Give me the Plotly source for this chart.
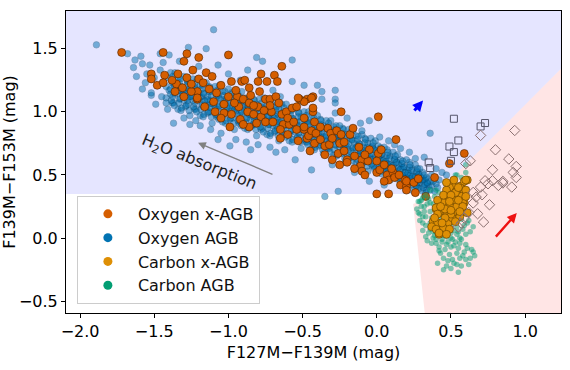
import plotly.graph_objects as go

# ---------------- data ----------------
SERIES_NAMES = ["Oxygen x-AGB", "Oxygen AGB", "Carbon x-AGB", "Carbon AGB"]
SERIES_COLORS = ["#d55e00", "#0173b2", "#de8f05", "#029e73"]

X_TICKS = [-2.0, -1.5, -1.0, -0.5, 0.0, 0.5, 1.0]
Y_TICKS = [-0.5, 0.0, 0.5, 1.0, 1.5]

# Oxygen AGB (blue cloud)
OXY_AGB = [
    (-1.41,1.02),(-1.38,1.07),(-1.42,1.11),(-1.39,1.14),(-1.40,1.17),(-1.42,1.20),(-1.38,1.23),(-1.41,1.27),(-1.39,1.31),
    (-1.34,1.02),(-1.37,1.07),(-1.33,1.10),(-1.36,1.14),(-1.33,1.17),(-1.35,1.20),(-1.37,1.23),(-1.34,1.26),(-1.36,1.31),
    (-1.32,1.01),(-1.29,1.04),(-1.30,1.09),(-1.28,1.11),(-1.31,1.14),(-1.29,1.17),(-1.32,1.20),(-1.28,1.25),(-1.30,1.28),
    (-1.26,0.97),(-1.23,1.02),(-1.27,1.06),(-1.24,1.09),(-1.25,1.12),(-1.27,1.15),(-1.23,1.18),(-1.26,1.22),(-1.24,1.26),
    (-1.19,0.97),(-1.22,1.02),(-1.18,1.05),(-1.21,1.09),(-1.18,1.12),(-1.20,1.15),(-1.22,1.18),(-1.19,1.21),(-1.21,1.26),
    (-1.17,0.96),(-1.14,0.99),(-1.15,1.04),(-1.13,1.06),(-1.16,1.09),(-1.14,1.12),(-1.17,1.15),(-1.13,1.20),(-1.15,1.23),
    (-1.11,0.91),(-1.08,0.96),(-1.12,1.00),(-1.09,1.03),(-1.10,1.06),(-1.12,1.09),(-1.08,1.12),(-1.11,1.16),(-1.09,1.20),
    (-1.04,0.92),(-1.07,0.97),(-1.03,1.00),(-1.06,1.04),(-1.03,1.07),(-1.05,1.10),(-1.07,1.13),(-1.04,1.16),(-1.06,1.21),
    (-1.02,0.91),(-0.99,0.94),(-1.00,0.99),(-0.98,1.01),(-1.01,1.04),(-0.99,1.07),(-1.02,1.10),(-0.98,1.15),(-1.00,1.18),
    (-0.96,0.86),(-0.93,0.91),(-0.97,0.95),(-0.94,0.98),(-0.95,1.01),(-0.97,1.04),(-0.93,1.07),(-0.96,1.11),(-0.94,1.15),
    (-0.89,0.87),(-0.92,0.92),(-0.88,0.95),(-0.91,0.99),(-0.88,1.02),(-0.90,1.05),(-0.92,1.08),(-0.89,1.11),(-0.91,1.16),
    (-0.87,0.86),(-0.84,0.89),(-0.85,0.94),(-0.83,0.96),(-0.86,0.99),(-0.84,1.02),(-0.87,1.05),(-0.83,1.10),(-0.85,1.13),
    (-0.81,0.81),(-0.78,0.86),(-0.82,0.90),(-0.79,0.93),(-0.80,0.96),(-0.82,0.99),(-0.78,1.02),(-0.81,1.06),(-0.79,1.10),
    (-0.74,0.82),(-0.77,0.87),(-0.73,0.90),(-0.76,0.94),(-0.73,0.97),(-0.75,1.00),(-0.77,1.03),(-0.74,1.06),(-0.76,1.11),
    (-0.72,0.81),(-0.69,0.84),(-0.70,0.89),(-0.68,0.91),(-0.71,0.94),(-0.69,0.97),(-0.72,1.00),(-0.68,1.05),(-0.70,1.08),
    (-0.66,0.77),(-0.63,0.82),(-0.67,0.86),(-0.64,0.89),(-0.65,0.92),(-0.67,0.95),(-0.63,0.98),(-0.66,1.02),(-0.64,1.06),
    (-0.59,0.77),(-0.62,0.82),(-0.58,0.85),(-0.61,0.89),(-0.58,0.92),(-0.60,0.95),(-0.62,0.98),(-0.59,1.01),(-0.61,1.06),
    (-0.57,0.76),(-0.54,0.79),(-0.55,0.84),(-0.53,0.86),(-0.56,0.89),(-0.54,0.92),(-0.57,0.95),(-0.53,1.00),(-0.55,1.03),
    (-0.51,0.71),(-0.48,0.76),(-0.52,0.80),(-0.49,0.83),(-0.50,0.86),(-0.52,0.89),(-0.48,0.92),(-0.51,0.96),(-0.49,1.00),
    (-0.44,0.71),(-0.47,0.76),(-0.43,0.79),(-0.46,0.83),(-0.43,0.86),(-0.45,0.89),(-0.47,0.92),(-0.44,0.95),(-0.46,1.00),
    (-0.42,0.70),(-0.39,0.73),(-0.40,0.78),(-0.38,0.80),(-0.41,0.83),(-0.39,0.86),(-0.42,0.89),(-0.38,0.94),(-0.40,0.97),
    (-0.36,0.67),(-0.33,0.71),(-0.37,0.75),(-0.34,0.77),(-0.35,0.80),(-0.37,0.83),(-0.33,0.86),(-0.36,0.89),(-0.34,0.93),
    (-0.29,0.66),(-0.32,0.71),(-0.28,0.74),(-0.31,0.77),(-0.28,0.80),(-0.30,0.83),(-0.32,0.85),(-0.29,0.88),(-0.31,0.93),
    (-0.27,0.65),(-0.24,0.68),(-0.25,0.72),(-0.23,0.74),(-0.26,0.77),(-0.24,0.79),(-0.27,0.82),(-0.23,0.87),(-0.25,0.89),
    (-0.21,0.60),(-0.18,0.64),(-0.22,0.68),(-0.19,0.70),(-0.20,0.73),(-0.22,0.76),(-0.18,0.79),(-0.21,0.82),(-0.19,0.86),
    (-0.14,0.59),(-0.17,0.64),(-0.13,0.66),(-0.16,0.70),(-0.13,0.73),(-0.15,0.75),(-0.17,0.78),(-0.14,0.81),(-0.16,0.85),
    (-0.12,0.57),(-0.09,0.60),(-0.10,0.65),(-0.08,0.66),(-0.11,0.69),(-0.09,0.72),(-0.12,0.75),(-0.08,0.79),(-0.10,0.82),
    (-0.06,0.53),(-0.03,0.57),(-0.07,0.61),(-0.04,0.63),(-0.05,0.66),(-0.07,0.69),(-0.03,0.72),(-0.06,0.75),(-0.04,0.79),
    (0.01,0.53),(-0.02,0.57),(0.02,0.60),(-0.01,0.63),(0.02,0.65),(0.00,0.68),(-0.02,0.70),(0.01,0.73),(-0.01,0.77),
    (0.03,0.51),(0.06,0.53),(0.05,0.57),(0.07,0.59),(0.04,0.61),(0.06,0.63),(0.03,0.66),(0.07,0.70),(0.05,0.72),
    (0.09,0.46),(0.12,0.50),(0.08,0.53),(0.11,0.55),(0.10,0.57),(0.08,0.59),(0.12,0.62),(0.09,0.65),(0.11,0.68),
    (0.16,0.44),(0.13,0.48),(0.17,0.50),(0.14,0.53),(0.17,0.56),(0.15,0.58),(0.13,0.60),(0.16,0.62),(0.14,0.66),
    (0.18,0.43),(0.21,0.45),(0.20,0.48),(0.22,0.50),(0.19,0.52),(0.21,0.54),(0.18,0.56),(0.22,0.60),(0.20,0.62),
    (0.24,0.38),(0.27,0.41),(0.23,0.44),(0.26,0.46),(0.25,0.48),(0.23,0.50),(0.27,0.52),(0.24,0.55),(0.26,0.58),
    (0.31,0.37),(0.28,0.40),(0.32,0.42),(0.29,0.44),(0.32,0.46),(0.30,0.48),(0.28,0.50),(0.31,0.52),(0.29,0.55),
    (0.33,0.36),(0.36,0.38),(0.35,0.41),(0.37,0.42),(0.34,0.43),(0.36,0.45),(0.33,0.47),(0.37,0.50),
    (0.39,0.37),(0.41,0.40),(0.40,0.43),(0.42,0.46),(0.38,0.45),
    # dense core, second pass
    (-1.365,1.05),(-1.385,1.09),(-1.375,1.12),(-1.36,1.15),(-1.39,1.18),(-1.365,1.21),(-1.38,1.25),(-1.375,1.28),
    (-1.315,1.03),(-1.335,1.07),(-1.325,1.105),(-1.31,1.135),(-1.34,1.165),(-1.315,1.195),(-1.33,1.23),(-1.325,1.26),
    (-1.265,1.01),(-1.285,1.05),(-1.275,1.09),(-1.26,1.12),(-1.29,1.15),(-1.265,1.18),(-1.28,1.21),(-1.275,1.24),
    (-1.215,1.00),(-1.235,1.04),(-1.225,1.07),(-1.21,1.10),(-1.24,1.13),(-1.215,1.16),(-1.23,1.20),(-1.225,1.23),
    (-1.165,0.98),(-1.185,1.02),(-1.175,1.055),(-1.16,1.085),(-1.19,1.115),(-1.165,1.145),(-1.18,1.18),(-1.175,1.21),
    (-1.115,0.96),(-1.135,1.00),(-1.125,1.035),(-1.11,1.065),(-1.14,1.095),(-1.115,1.125),(-1.13,1.16),(-1.125,1.19),
    (-1.065,0.94),(-1.085,0.98),(-1.075,1.02),(-1.06,1.05),(-1.09,1.08),(-1.065,1.11),(-1.08,1.14),(-1.075,1.17),
    (-1.015,0.93),(-1.035,0.97),(-1.025,1.00),(-1.01,1.03),(-1.04,1.06),(-1.015,1.09),(-1.03,1.13),(-1.025,1.16),
    (-0.965,0.91),(-0.985,0.95),(-0.975,0.985),(-0.96,1.015),(-0.99,1.045),(-0.965,1.075),(-0.98,1.11),(-0.975,1.14),
    (-0.915,0.89),(-0.935,0.93),(-0.925,0.97),(-0.91,1.00),(-0.94,1.03),(-0.915,1.06),(-0.93,1.09),(-0.925,1.12),
    (-0.865,0.875),(-0.885,0.915),(-0.875,0.95),(-0.86,0.98),(-0.89,1.01),(-0.865,1.04),(-0.88,1.075),(-0.875,1.105),
    (-0.815,0.86),(-0.835,0.90),(-0.825,0.93),(-0.81,0.96),(-0.84,0.99),(-0.815,1.02),(-0.83,1.06),(-0.825,1.09),
    (-0.765,0.84),(-0.785,0.88),(-0.775,0.92),(-0.76,0.95),(-0.79,0.98),(-0.765,1.01),(-0.78,1.04),(-0.775,1.07),
    (-0.715,0.83),(-0.735,0.87),(-0.725,0.90),(-0.71,0.93),(-0.74,0.96),(-0.715,0.99),(-0.73,1.03),(-0.725,1.06),
    (-0.665,0.81),(-0.685,0.85),(-0.675,0.89),(-0.66,0.92),(-0.69,0.95),(-0.665,0.98),(-0.68,1.01),(-0.675,1.04),
    (-0.615,0.80),(-0.635,0.84),(-0.625,0.87),(-0.61,0.90),(-0.64,0.93),(-0.615,0.96),(-0.63,1.00),(-0.625,1.03),
    (-0.565,0.78),(-0.585,0.82),(-0.575,0.855),(-0.56,0.885),(-0.59,0.915),(-0.565,0.945),(-0.58,0.98),(-0.575,1.01),
    (-0.515,0.76),(-0.535,0.80),(-0.525,0.835),(-0.51,0.865),(-0.54,0.895),(-0.515,0.925),(-0.53,0.96),(-0.525,0.99),
    (-0.465,0.74),(-0.485,0.78),(-0.475,0.815),(-0.46,0.845),(-0.49,0.875),(-0.465,0.905),(-0.48,0.94),(-0.475,0.97),
    (-0.415,0.72),(-0.435,0.76),(-0.425,0.795),(-0.41,0.825),(-0.44,0.855),(-0.415,0.885),(-0.43,0.92),(-0.425,0.95),
    (-0.365,0.70),(-0.385,0.74),(-0.375,0.775),(-0.36,0.805),(-0.39,0.835),(-0.365,0.865),(-0.38,0.90),(-0.375,0.93),
    (-0.315,0.68),(-0.335,0.72),(-0.325,0.755),(-0.31,0.785),(-0.34,0.815),(-0.315,0.845),(-0.33,0.88),(-0.325,0.91),
    (-0.265,0.66),(-0.285,0.70),(-0.275,0.735),(-0.26,0.765),(-0.29,0.795),(-0.265,0.825),(-0.28,0.86),(-0.275,0.89),
    (-0.215,0.63),(-0.235,0.67),(-0.225,0.71),(-0.21,0.74),(-0.24,0.77),(-0.215,0.80),(-0.23,0.83),(-0.225,0.86),
    (-0.165,0.61),(-0.185,0.65),(-0.175,0.685),(-0.16,0.715),(-0.19,0.745),(-0.165,0.775),(-0.18,0.81),(-0.175,0.84),
    (-0.115,0.59),(-0.135,0.625),(-0.125,0.66),(-0.11,0.69),(-0.14,0.715),(-0.115,0.745),(-0.13,0.78),(-0.125,0.805),
    (-0.065,0.57),(-0.085,0.605),(-0.075,0.64),(-0.06,0.665),(-0.09,0.695),(-0.065,0.72),(-0.08,0.755),(-0.075,0.78),
    (-0.015,0.55),(-0.035,0.585),(-0.025,0.62),(-0.01,0.645),(-0.04,0.67),(-0.015,0.70),(-0.03,0.73),(-0.025,0.755),
    (0.035,0.53),(0.015,0.56),(0.025,0.59),(0.04,0.615),(0.01,0.64),(0.035,0.665),(0.02,0.69),(0.025,0.715),
    (0.085,0.50),(0.065,0.53),(0.075,0.56),(0.09,0.58),(0.06,0.605),(0.085,0.63),(0.07,0.655),(0.075,0.68),
    (0.135,0.47),(0.115,0.50),(0.125,0.53),(0.14,0.55),(0.11,0.575),(0.135,0.60),(0.12,0.625),(0.125,0.65),
    (0.185,0.45),(0.165,0.475),(0.175,0.50),(0.19,0.52),(0.16,0.545),(0.185,0.565),(0.17,0.59),(0.175,0.61),
    (0.235,0.42),(0.215,0.445),(0.225,0.47),(0.24,0.49),(0.21,0.515),(0.235,0.535),(0.22,0.56),(0.225,0.58),
    (0.285,0.39),(0.265,0.415),(0.275,0.44),(0.29,0.46),(0.26,0.485),(0.285,0.505),(0.27,0.53),(0.275,0.55),
    (0.335,0.38),(0.315,0.40),(0.325,0.425),(0.34,0.44),(0.31,0.46),(0.335,0.48),(0.32,0.50),
    # sparse halo
    (-1.89,1.53),(-1.68,1.46),(-1.59,1.44),(-1.63,1.41),(-1.58,1.38),(-1.53,1.37),(-1.64,1.35),(-1.62,1.28),
    (-1.56,1.23),(-1.52,1.13),(-1.49,1.06),(-1.46,1.46),(-1.40,1.45),(-1.27,1.51),(-1.10,1.65),(-1.15,1.50),
    (-1.07,1.37),(-1.48,1.21),(-1.52,1.15),(-1.42,1.07),(-1.37,0.91),(-1.26,0.90),(-1.19,0.89),(-1.07,0.78),
    (-0.99,0.73),(-0.81,1.43),(-0.77,1.40),(-0.87,1.33),(-1.55,1.30),(-1.50,1.27),(-1.46,1.33),(-1.45,1.12),
    (-1.58,1.18),(-1.44,1.39),(-1.33,1.40),(-1.20,1.36),(-1.30,0.95),(-1.22,0.93),(-1.12,0.86),(-1.05,0.83),
    (-0.95,0.78),(-0.88,0.76),(-0.80,0.74),(-0.72,0.72),(-0.62,0.70),(-0.57,1.41),(-0.57,1.24),(-0.49,1.21),
    (-0.40,1.21),(-0.28,1.17),(-0.28,1.10),(-0.37,1.10),(-0.37,1.16),(-0.28,1.07),(-0.28,0.99),(-0.11,0.91),
    (-0.05,0.93),(-0.10,0.85),(0.02,0.80),(0.08,0.77),(0.16,0.71),(0.26,0.63),(0.36,0.83),(-0.44,0.54),
    (-0.26,0.37),(-0.35,0.33),(-0.55,0.62),(-0.68,0.68),(-0.92,1.25),(-1.00,1.30),(-0.70,1.17),(-0.65,1.12),
    (-0.50,1.08),(-0.20,0.95),(-0.15,0.52),(-0.05,0.45),(0.05,0.42),(-0.30,0.58),(-0.85,0.70),(0.20,0.38),
    (0.44,0.52),(0.47,0.50),(0.40,0.55),(0.32,0.64),(0.22,0.68),(0.12,0.74),
]

# Oxygen x-AGB (orange, edged)
OXY_XAGB = [
    (-1.72,1.47),(-1.44,1.47),(-1.28,1.46),(-1.20,1.43),(-1.52,1.30),(-1.52,1.26),(-1.43,1.29),(-1.48,1.21),
    (-1.44,1.23),(-1.34,1.30),(-1.35,1.22),(-1.31,1.19),(-1.36,1.16),(-1.28,1.27),(-1.24,1.33),(-1.30,1.40),
    (-1.20,1.26),(-1.21,1.16),(-1.21,1.10),(-1.25,1.16),(-1.17,1.23),(-1.15,1.31),(-1.16,1.04),(-1.30,1.12),
    (-1.00,1.45),(-0.64,1.36),(-1.11,1.28),(-1.08,1.15),(-1.05,1.21),(-0.98,1.24),(-0.91,1.24),(-0.89,1.25),
    (-0.86,1.19),(-0.78,1.30),(-0.80,1.24),(-0.74,1.24),(-0.69,1.29),(-0.67,1.24),(-0.79,1.16),(-0.94,1.12),
    (-0.90,1.10),(-0.86,1.07),(-0.93,1.04),(-1.03,1.06),(-1.09,1.00),(-1.21,1.11),(-1.03,0.99),(-1.05,0.95),
    (-0.98,0.98),(-0.99,0.88),(-0.92,0.94),(-0.87,1.00),(-0.83,0.98),(-0.80,1.04),(-0.75,1.10),(-0.72,1.10),
    (-0.68,1.12),(-0.66,1.07),(-0.71,1.00),(-0.78,0.96),(-0.75,0.92),(-0.70,0.92),(-0.64,0.98),(-0.61,1.00),
    (-0.57,1.03),(-0.54,1.04),(-0.52,1.10),(-0.47,1.10),(-0.49,0.95),(-0.43,1.00),(-0.42,0.92),(-0.63,0.90),
    (-0.59,0.90),(-0.54,0.86),(-0.60,0.82),(-0.65,0.86),(-0.86,0.88),(-0.81,0.91),(-0.90,0.90),(-0.47,0.79),
    (-0.43,0.83),(-0.49,0.86),(-0.53,0.77),(-0.65,0.79),(-0.43,1.12),(-0.49,1.08),(-0.43,1.03),(-0.24,1.00),
    (0.01,0.96),(0.13,0.78),(-0.49,0.88),(-0.46,0.81),(-0.44,0.85),(-0.41,0.83),(-0.42,0.75),(-0.38,0.78),
    (-0.35,0.73),(-0.33,0.87),(-0.31,0.83),(-0.27,0.85),(-0.24,0.82),(-0.18,0.82),(-0.25,0.75),(-0.32,0.74),
    (-0.26,0.67),(-0.22,0.69),(-0.15,0.65),(-0.10,0.62),(-0.11,0.57),(-0.06,0.61),(-0.05,0.70),(0.01,0.67),
    (0.03,0.70),(0.00,0.61),(-0.10,0.53),(0.00,0.52),(0.02,0.54),(0.07,0.50),(0.11,0.52),(0.08,0.46),
    (0.12,0.48),(0.16,0.42),(0.20,0.41),(0.19,0.46),(-0.16,0.87),(-0.20,0.62),(-0.45,0.69),(-0.53,1.11),
    (-0.44,1.11),(0.59,0.67),(0.49,0.59),(0.39,0.48),(0.33,0.33),(0.26,0.36),(0.20,0.45),(0.20,0.38),
    (0.00,0.35),(0.08,0.35),(-0.30,0.62),(-0.25,0.58),(-0.35,0.66),(-0.15,0.55),(-0.08,0.50),(0.05,0.45),
    (-0.20,0.60),(-1.10,1.08),(-1.00,1.12),(-0.95,1.17),(-0.85,1.13),(-0.72,1.05),(-0.60,0.95),(-0.56,0.92),
    (-0.38,0.88),(-0.30,0.79),(-0.22,0.76),(-0.12,0.72),(-0.08,0.66),(0.05,0.58),(0.10,0.55),(0.15,0.50),
    (0.25,0.44),(0.28,0.47),(-1.38,1.25),(-1.25,1.22),(-1.13,1.18),(-0.96,1.07),(-0.83,1.05),(-0.76,1.01),
]

# Carbon x-AGB (amber, edged)
CARB_XAGB = [
    (0.61,0.46),(0.57,0.41),(0.51,0.42),(0.49,0.40),(0.54,0.37),(0.59,0.37),(0.57,0.33),(0.53,0.30),
    (0.48,0.32),(0.45,0.28),(0.41,0.30),(0.49,0.26),(0.55,0.25),(0.59,0.28),(0.58,0.21),(0.53,0.21),
    (0.47,0.21),(0.42,0.20),(0.40,0.23),(0.38,0.13),(0.41,0.12),(0.48,0.12),(0.51,0.16),(0.45,0.08),
    (0.49,0.07),(0.42,0.03),(0.37,0.09),(0.56,0.17),(0.61,0.20),(0.56,0.41),(0.59,0.45),(0.60,0.38),
    (0.47,0.38),(0.53,0.36),(0.40,0.24),(0.46,0.23),(0.54,0.25),(0.58,0.28),(0.41,0.19),(0.50,0.19),
    (0.60,0.46),(0.45,0.34),(0.50,0.34),(0.55,0.30),(0.43,0.25),(0.50,0.22),(0.46,0.16),(0.53,0.13),
    (0.40,0.07),(0.44,0.12),(0.55,0.40),(0.60,0.33),(0.52,0.46),(0.47,0.44),(0.58,0.25),(0.39,0.16),
    (0.49,0.29),(0.56,0.21),(0.42,0.04),(0.47,0.03),
]

# Carbon AGB (green)
CARB_AGB = [
    (0.54,0.50),(0.57,0.48),(0.60,0.52),(0.46,0.44),(0.40,0.38),(0.36,0.38),(0.31,0.32),(0.28,0.29),
    (0.27,0.23),(0.30,0.25),(0.29,0.19),(0.33,0.17),(0.31,0.12),(0.36,0.07),(0.33,0.01),(0.38,0.00),
    (0.37,-0.04),(0.40,0.05),(0.44,-0.01),(0.47,0.01),(0.50,0.04),(0.54,0.03),(0.53,-0.03),(0.48,-0.03),
    (0.42,-0.07),(0.46,-0.09),(0.50,-0.07),(0.56,-0.04),(0.60,-0.05),(0.64,-0.09),(0.59,-0.11),(0.54,-0.12),
    (0.49,-0.13),(0.45,-0.16),(0.41,-0.20),(0.51,-0.17),(0.56,-0.16),(0.60,-0.17),(0.54,-0.21),(0.50,-0.24),
    (0.57,-0.22),(0.63,-0.16),(0.65,-0.11),(0.48,-0.18),(0.61,-0.08),(0.55,-0.08),(0.57,-0.01),(0.42,0.16),
    (0.46,0.13),(0.38,0.09),(0.41,0.08),(0.50,0.11),(0.54,0.09),(0.44,0.04),(0.37,0.16),(0.32,0.21),
    (0.36,0.28),(0.39,0.33),(0.42,0.36),(0.33,0.34),(0.47,0.19),(0.53,0.20),(0.57,0.15),(0.61,0.12),
    (0.46,0.05),(0.50,0.00),(0.40,-0.04),(0.65,0.09),(0.60,0.58),(0.53,0.50),(0.29,0.29),(0.32,0.25),
    (0.36,0.21),(0.28,0.20),(0.31,0.17),(0.43,0.10),(0.39,0.02),(0.45,0.07),(0.52,0.06),(0.43,-0.12),
    (0.30,0.30),(0.34,0.27),(0.29,0.14),(0.33,0.10),(0.35,0.04),(0.34,-0.02),(0.36,0.12),(0.38,0.27),
    (0.35,0.31),(0.31,0.06),(0.40,-0.01),(0.44,0.02),(0.48,0.05),(0.51,-0.01),(0.55,0.05),(0.58,0.07),
    (0.60,0.03),(0.62,0.14),(0.59,0.10),(0.63,0.05),(0.56,0.00),(0.52,-0.06),(0.47,-0.05),(0.44,-0.03),
    (0.38,0.05),(0.42,-0.10),(0.58,-0.14),(0.52,-0.20),(0.47,-0.22),(0.55,-0.27),(0.62,-0.21),(0.66,-0.14),
    (0.45,-0.25),
]

# open squares
SQUARES = [
    (0.52,0.945),(0.70,0.884),(0.73,0.911),(0.55,0.773),(0.49,0.725),(0.52,0.681),(0.50,0.612),
    (0.35,0.599),(0.36,0.555),
]

# open diamonds
DIAMONDS = [
    (0.70,0.813),(0.93,0.852),(0.80,0.699),(0.89,0.626),(0.63,0.612),(0.60,0.59),(0.78,0.541),
    (0.94,0.567),(0.92,0.520),(0.94,0.480),(0.85,0.449),(0.82,0.417),(0.78,0.454),(0.73,0.454),
    (0.75,0.430),(0.70,0.404),(0.91,0.404),(0.65,0.362),(0.67,0.325),(0.71,0.343),(0.65,0.278),
    (0.76,0.264),(0.62,0.203),(0.68,0.193),(0.72,0.127),(0.59,0.159),(0.57,0.119),(0.55,0.088),
    (0.85,0.436),
]

# ---------------- figure ----------------
FONT = "DejaVu Sans"
fig = go.Figure()

def xs(pts):
    return [p[0] for p in pts]

def ys(pts):
    return [p[1] for p in pts]

fig.add_trace(go.Scatter(x=xs(OXY_AGB), y=ys(OXY_AGB), mode="markers", showlegend=False,
                         marker=dict(color=SERIES_COLORS[1], size=6.5, opacity=0.5,
                                     line=dict(color="#003a60", width=0.6))))
fig.add_trace(go.Scatter(x=xs(OXY_XAGB), y=ys(OXY_XAGB), mode="markers", showlegend=False,
                         marker=dict(color=SERIES_COLORS[0], size=8, line=dict(color="#4a2200", width=0.6))))
fig.add_trace(go.Scatter(x=xs(CARB_AGB), y=ys(CARB_AGB), mode="markers", showlegend=False,
                         marker=dict(color=SERIES_COLORS[3], size=5.5, opacity=0.5, line=dict(width=0))))
fig.add_trace(go.Scatter(x=xs(CARB_XAGB), y=ys(CARB_XAGB), mode="markers", showlegend=False,
                         marker=dict(color=SERIES_COLORS[2], size=8, line=dict(color="#5a3a00", width=0.6))))
fig.add_trace(go.Scatter(x=xs(SQUARES), y=ys(SQUARES), mode="markers", showlegend=False,
                         marker=dict(symbol="square-open", color="#55556a", size=7, line=dict(width=1))))
fig.add_trace(go.Scatter(x=xs(DIAMONDS), y=ys(DIAMONDS), mode="markers", showlegend=False,
                         marker=dict(symbol="diamond-open", color="#8a7070", size=8, line=dict(width=1))))

# legend entries
for name, col in zip(SERIES_NAMES, SERIES_COLORS):
    fig.add_trace(go.Scatter(x=[None], y=[None], mode="markers", name=name,
                             marker=dict(color=col, size=9, line=dict(width=0))))

# shaded regions
fig.add_shape(type="path", xref="x", yref="y", layer="below",
              path="M -2.3,0.35 L 0.40,0.35 L 1.35,1.467 L 1.35,1.95 L -2.3,1.95 Z",
              fillcolor="rgba(0,0,255,0.1)", line=dict(width=0))
fig.add_shape(type="path", xref="x", yref="y", layer="below",
              path="M 0.333,-0.7 L 0.245,0.27 L 0.40,0.35 L 1.35,1.467 L 1.35,-0.7 Z",
              fillcolor="rgba(255,0,0,0.1)", line=dict(width=0))

# arrows
fig.add_annotation(x=-1.205, y=0.755, ax=-0.693, ay=0.50, xref="x", yref="y", axref="x", ayref="y",
                   text="", showarrow=True, arrowhead=2, arrowsize=1.2, arrowwidth=1.3, arrowcolor="#808080")
fig.add_annotation(x=0.312, y=1.089, ax=0.245, ay=0.998, xref="x", yref="y", axref="x", ayref="y",
                   text="", showarrow=True, arrowhead=2, arrowsize=0.7, arrowwidth=3, arrowcolor="#0000ff")
fig.add_annotation(x=0.944, y=0.198, ax=0.794, ay=0.0, xref="x", yref="y", axref="x", ayref="y",
                   text="", showarrow=True, arrowhead=2, arrowsize=0.8, arrowwidth=2.4, arrowcolor="#ee1111")
fig.add_annotation(x=-1.198, y=0.597, xref="x", yref="y", text="H<sub>2</sub>O absorption",
                   showarrow=False, textangle=22, font=dict(family=FONT, size=16, color="#222222"),
                   xanchor="center", yanchor="middle")

axis_common = dict(showgrid=False, zeroline=False, showline=True, linecolor="black", linewidth=1,
                   mirror=True, ticks="outside", ticklen=4, tickwidth=1, tickcolor="black",
                   tickfont=dict(family=FONT, size=16, color="black"), tickformat=".1f")

fig.update_xaxes(range=[-2.095, 1.242], tickvals=X_TICKS,
                 title=dict(text="F127M−F139M (mag)", font=dict(family=FONT, size=16, color="black"), standoff=6),
                 **axis_common)
fig.update_yaxes(range=[-0.593, 1.798], tickvals=Y_TICKS,
                 title=dict(text="F139M−F153M (mag)", font=dict(family=FONT, size=16, color="black"), standoff=6),
                 **axis_common)

fig.update_layout(
    width=570, height=370,
    margin=dict(l=66, r=9, t=11, b=57, autoexpand=False),
    paper_bgcolor="white", plot_bgcolor="white",
    font=dict(family=FONT, size=16, color="black"),
    legend=dict(x=0.022, y=0.03, xanchor="left", yanchor="bottom",
                bgcolor="rgba(255,255,255,0.85)", bordercolor="#cccccc", borderwidth=1,
                font=dict(family=FONT, size=16, color="#111111"), itemwidth=50),
)

fig.write_html("out.html", config={"displayModeBar": False},
               post_script="document.body.style.margin='0';")
